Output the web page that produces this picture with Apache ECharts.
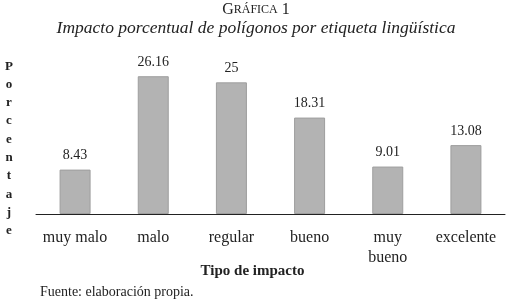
<!DOCTYPE html>
<html><head><meta charset="utf-8">
<script src="https://cdn.jsdelivr.net/npm/echarts@6/dist/echarts.min.js"></script>
<style>html,body{margin:0;padding:0;background:#fff}#c{width:512px;height:303px}</style>
</head><body><div id="c"></div>
<script>
const categories = ['muy malo', 'malo', 'regular', 'bueno', 'muy\nbueno', 'excelente'];
const values = [8.43, 26.16, 25, 18.31, 9.01, 13.08];
const yName = 'Porcentaje';
const serif = '"Liberation Serif", "DejaVu Serif", serif';

const chart = echarts.init(document.getElementById('c'));
chart.setOption({
  backgroundColor: '#fff',
  animation: false,
  grid: { left: 36, right: 7, top: 56, bottom: 89 },
  xAxis: {
    type: 'category', data: categories,
    name: 'Tipo de impacto', nameLocation: 'middle', nameGap: 50, nameMoveOverlap: false,
    nameTextStyle: { fontFamily: serif, fontSize: 15, fontWeight: 'bold', color: '#222', padding: [0, 36, 0, 0] },
    axisLine: { lineStyle: { color: '#222', width: 1 } },
    axisTick: { show: false },
    axisLabel: { fontFamily: serif, fontSize: 16, color: '#222', margin: 14, lineHeight: 20, interval: 0, verticalAlign: 'top' }
  },
  yAxis: { type: 'value', min: 0, max: 30, show: false },
  series: [{
    type: 'bar', data: values, barWidth: 31,
    itemStyle: { color: '#b3b3b3', borderColor: '#9e9e9e', borderWidth: 1 },
    label: { show: true, position: 'top', distance: 7, fontFamily: serif, fontSize: 14, color: '#222' }
  }],
  graphic: [
    { type: 'text', left: 'center', top: 2, style: { text: '{a|G}{b|RÁFICA}{a| 1}', rich: { a: { fontFamily: serif, fontSize: 16, fill: '#222' }, b: { fontFamily: serif, fontSize: 12, fill: '#222' } } } },
    { type: 'text', left: 'center', top: 19, style: { text: 'Impacto porcentual de polígonos por etiqueta lingüística', fontFamily: serif, fontSize: 17.5, fontStyle: 'italic', fill: '#222' } },
    { type: 'text', x: 9, y: 57, style: { text: yName.split('').join('\n'), fontFamily: serif, fontSize: 13, fontWeight: 'bold', lineHeight: 18.3, align: 'center', fill: '#222' } },
    { type: 'text', x: 40, y: 285, style: { text: 'Fuente: elaboración propia.', fontFamily: serif, fontSize: 14, fill: '#222' } }
  ]
});
</script></body></html>
